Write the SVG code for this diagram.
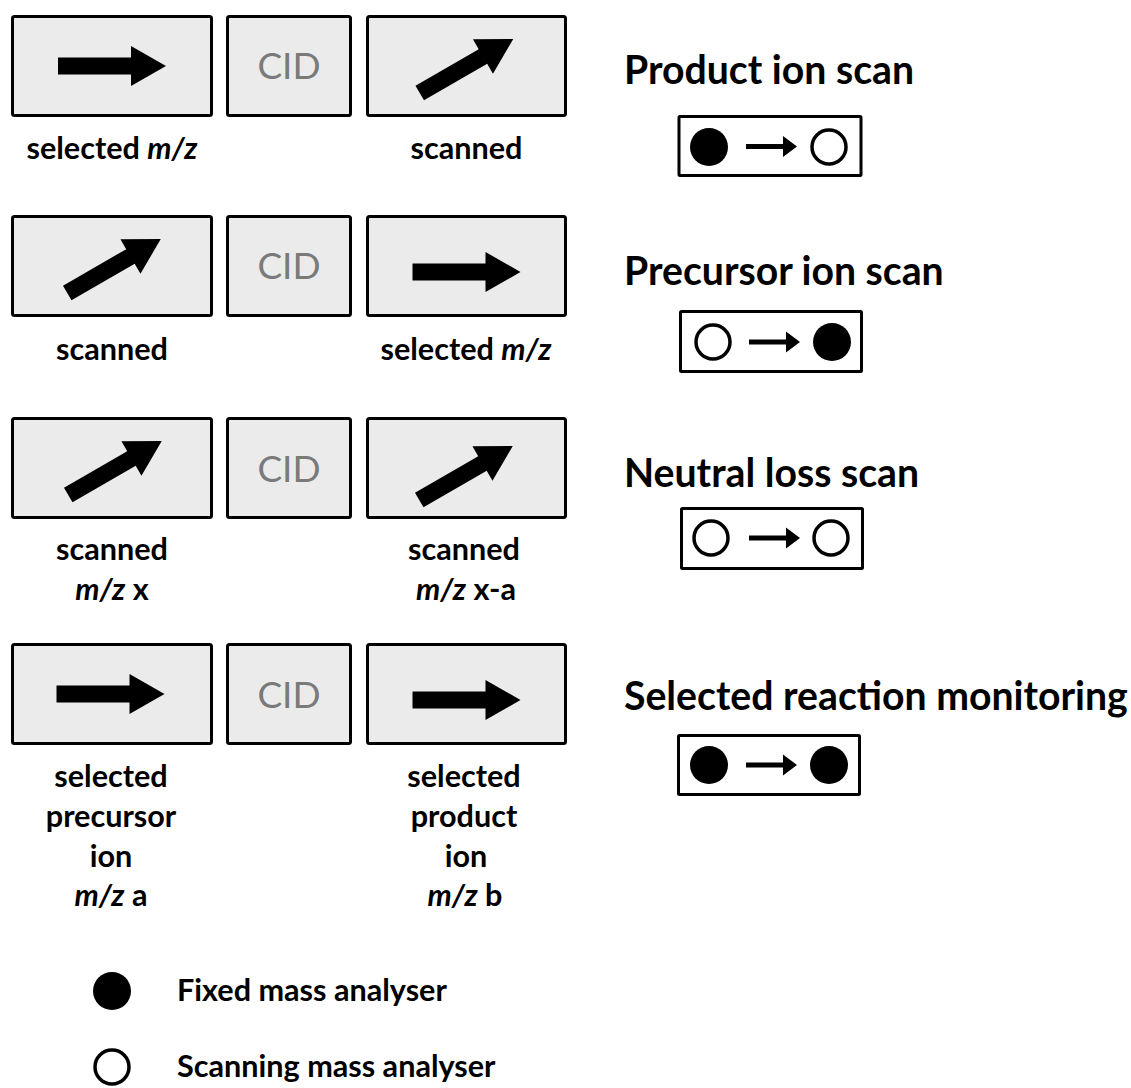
<svg xmlns="http://www.w3.org/2000/svg" xmlns:xlink="http://www.w3.org/1999/xlink" width="1131" height="1088" viewBox="0 0 1131 1088">
<style>
.box{fill:#ebebeb;stroke:#000;stroke-width:3}
.sbox{fill:#fff;stroke:#000;stroke-width:3}
.cid{font-family:Lato,"Liberation Sans",sans-serif;font-size:37px;fill:#7a7a7a;text-anchor:middle}
.lbl{font-family:Lato,"Liberation Sans",sans-serif;font-weight:bold;font-size:30.6px;fill:#000;text-anchor:middle}
.lgd{font-family:Lato,"Liberation Sans",sans-serif;font-weight:bold;font-size:30.6px;fill:#000}
.ttl{font-family:Lato,"Liberation Sans",sans-serif;font-weight:bold;font-size:39.2px;fill:#000}
.it{font-style:italic}
.full{fill:#000}
.open{fill:#fff;stroke:#000;stroke-width:3.5}
</style>
<defs>
<path id="bigArrow" d="M-54,-8.5 H19 V-20 L54,0 L19,20 V8.5 H-54 Z" fill="#000"/>
<path id="smallArrow" d="M0,-2.5 H37 V-10.5 L51,0 L37,10.5 V2.5 H0 Z" fill="#000"/>
</defs>
<rect width="1131" height="1088" fill="#fff"/>

<!-- Row 1: Product ion scan -->
<g id="r1-q1">
<rect class="box" x="12.5" y="16.5" width="199" height="99" rx="2"/>
<use xlink:href="#bigArrow" transform="translate(112,66)"/>
<text class="lbl" x="112" y="159">selected <tspan class="it">m/z</tspan></text>
</g>
<g id="r1-cid">
<rect class="box" x="227.5" y="16.5" width="123" height="99" rx="2"/>
<text class="cid" x="289" y="79">CID</text>
</g>
<g id="r1-q3">
<rect class="box" x="367.5" y="16.5" width="198" height="99" rx="2"/>
<use xlink:href="#bigArrow" transform="translate(466.5,66) rotate(-30)"/>
<text class="lbl" x="466.5" y="159">scanned</text>
</g>
<g id="r1-mode">
<text class="ttl" x="624" y="84">Product ion scan</text>
<rect class="sbox" x="679" y="116.5" width="182" height="59" rx="1"/>
<circle class="full" cx="709" cy="147" r="19"/>
<circle class="open" cx="829" cy="147" r="17"/>
</g>

<!-- Row 2: Precursor ion scan -->
<g id="r2-q1">
<rect class="box" x="12.5" y="216.5" width="199" height="99" rx="2"/>
<use xlink:href="#bigArrow" transform="translate(114,266) rotate(-30)"/>
<text class="lbl" x="112" y="360">scanned</text>
</g>
<g id="r2-cid">
<rect class="box" x="227.5" y="216.5" width="123" height="99" rx="2"/>
<text class="cid" x="289" y="279">CID</text>
</g>
<g id="r2-q3">
<rect class="box" x="367.5" y="216.5" width="198" height="99" rx="2"/>
<use xlink:href="#bigArrow" transform="translate(466.5,272)"/>
<text class="lbl" x="466" y="360">selected <tspan class="it">m/z</tspan></text>
</g>
<g id="r2-mode">
<text class="ttl" x="624" y="285">Precursor ion scan</text>
<rect class="sbox" x="680.5" y="311.5" width="181" height="60" rx="1"/>
<circle class="open" cx="713" cy="342" r="17"/>
<circle class="full" cx="832" cy="342" r="19"/>
</g>

<!-- Row 3: Neutral loss scan -->
<g id="r3-q1">
<rect class="box" x="12.5" y="418.5" width="199" height="99" rx="2"/>
<use xlink:href="#bigArrow" transform="translate(115,468) rotate(-30)"/>
<text class="lbl" x="112" y="560">scanned</text>
<text class="lbl" x="112" y="600"><tspan class="it">m/z</tspan> x</text>
</g>
<g id="r3-cid">
<rect class="box" x="227.5" y="418.5" width="123" height="99" rx="2"/>
<text class="cid" x="289" y="482">CID</text>
</g>
<g id="r3-q3">
<rect class="box" x="367.5" y="418.5" width="198" height="99" rx="2"/>
<use xlink:href="#bigArrow" transform="translate(466,473) rotate(-30)"/>
<text class="lbl" x="464" y="560">scanned</text>
<text class="lbl" x="466" y="600"><tspan class="it">m/z</tspan> x-a</text>
</g>
<g id="r3-mode">
<text class="ttl" x="624" y="487">Neutral loss scan</text>
<rect class="sbox" x="681.5" y="508.5" width="181" height="60" rx="1"/>
<circle class="open" cx="711" cy="538" r="17"/>
<circle class="open" cx="831" cy="538" r="17"/>
</g>

<!-- Row 4: Selected reaction monitoring -->
<g id="r4-q1">
<rect class="box" x="12.5" y="644.5" width="199" height="99" rx="2"/>
<use xlink:href="#bigArrow" transform="translate(110.5,694)"/>
<text class="lbl" x="111" y="787">selected</text>
<text class="lbl" x="111" y="827">precursor</text>
<text class="lbl" x="111" y="867">ion</text>
<text class="lbl" x="111" y="906"><tspan class="it">m/z</tspan> a</text>
</g>
<g id="r4-cid">
<rect class="box" x="227.5" y="644.5" width="123" height="99" rx="2"/>
<text class="cid" x="289" y="708">CID</text>
</g>
<g id="r4-q3">
<rect class="box" x="367.5" y="644.5" width="198" height="99" rx="2"/>
<use xlink:href="#bigArrow" transform="translate(466.5,700)"/>
<text class="lbl" x="464" y="787">selected</text>
<text class="lbl" x="464" y="827">product</text>
<text class="lbl" x="466" y="867">ion</text>
<text class="lbl" x="465" y="906"><tspan class="it">m/z</tspan> b</text>
</g>
<g id="r4-mode">
<text class="ttl" x="624" y="710">Selected reaction monitoring</text>
<rect class="sbox" x="678.5" y="735.5" width="181" height="59" rx="1"/>
<circle class="full" cx="709" cy="765" r="19"/>
<circle class="full" cx="829" cy="765" r="19"/>
</g>

<!-- Legend -->
<g id="legend-fixed">
<circle class="full" cx="112" cy="991" r="19"/>
<text class="lgd" x="177" y="1001">Fixed mass analyser</text>
</g>
<g id="legend-scanning">
<circle class="open" cx="112" cy="1067" r="17"/>
<text class="lgd" x="177" y="1077">Scanning mass analyser</text>
</g>

<!-- Connectors -->
<g id="connectors">
<use xlink:href="#smallArrow" transform="translate(746,146.5)"/>
<use xlink:href="#smallArrow" transform="translate(749,342)"/>
<use xlink:href="#smallArrow" transform="translate(749,538)"/>
<use xlink:href="#smallArrow" transform="translate(746,765)"/>
</g>
</svg>
